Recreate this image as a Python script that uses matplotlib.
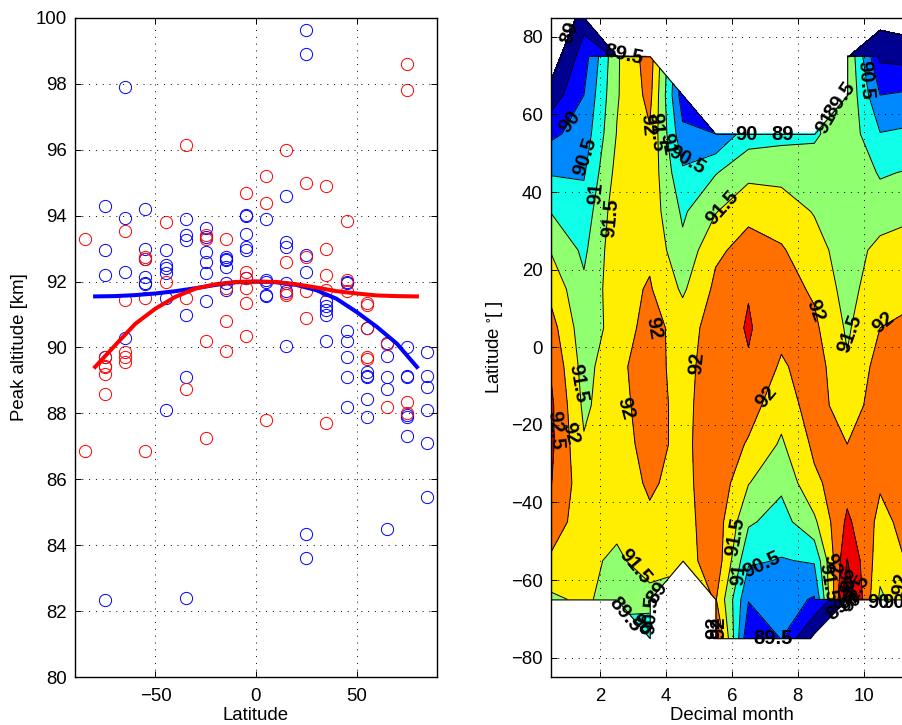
import numpy as np
import matplotlib
matplotlib.use('Agg')
from matplotlib import pyplot as plt

plt.rcParams['font.family'] = ['Liberation Sans', 'DejaVu Sans']
plt.rcParams['font.size'] = 13.4
plt.rcParams['mathtext.default'] = 'regular'

n = np.nan

# left panel: peak altitude per latitude bin
blue_lat = [-75]*5 + [-65]*4 + [-55]*6 + [-45]*6 + [-35]*6 + [-25]*6 + [-15]*6 + [-5]*6 + [5]*5 + [15]*6 + [25]*6 + [35]*5 + [45]*7 + [55]*6 + [65]*5 + [75]*6 + [85]*6
blue_alt = [94.3, 92.95, 92.2, 89.7, 82.35,
            97.9, 93.92, 92.3, 90.3,
            94.2, 93.0, 92.7, 92.15, 91.95, 91.93,
            92.95, 92.5, 92.4, 92.25, 91.5, 88.1,
            93.9, 93.4, 93.25, 91.0, 89.1, 82.4,
            93.62, 93.35, 92.9, 92.6, 92.25, 91.4,
            92.75, 92.7, 92.65, 92.45, 91.95, 91.75,
            94.02, 94.0, 93.45, 93.05, 92.95, 92.1,
            93.9, 92.05, 92.0, 91.6, 91.55,
            94.6, 93.2, 93.05, 91.95, 91.7, 90.05,
            99.65, 98.9, 92.8, 92.3, 84.35, 83.6,
            91.4, 91.25, 91.15, 91.0, 90.2,
            92.0, 91.95, 90.5, 90.2, 89.7, 89.1, 88.2,
            90.6, 89.25, 89.15, 89.1, 88.45, 87.9,
            90.15, 89.75, 89.1, 88.75, 84.5,
            90.0, 89.15, 89.1, 87.95, 87.9, 87.3,
            89.85, 89.15, 88.8, 88.1, 87.1, 85.45]

red_lat = [-85]*2 + [-75]*5 + [-65]*5 + [-55]*4 + [-45]*2 + [-35]*3 + [-25]*4 + [-15]*4 + [-5]*6 + [5]*3 + [15]*4 + [25]*4 + [35]*5 + [45]*3 + [55]*5 + [65]*2 + [75]*4
red_alt = [93.3, 86.85,
           89.7, 89.45, 89.4, 89.2, 88.6,
           93.55, 91.45, 89.85, 89.7, 89.55,
           92.75, 92.7, 91.5, 86.85,
           93.8, 92.0,
           96.15, 91.5, 88.75,
           93.4, 93.3, 90.2, 87.25,
           93.3, 91.8, 90.8, 89.9,
           94.7, 92.3, 92.1, 91.8, 91.35, 90.35,
           95.2, 94.4, 87.8,
           96.0, 92.6, 91.65, 91.6,
           95.0, 92.75, 91.7, 90.9,
           94.9, 93.0, 92.2, 91.75, 87.7,
           93.85, 92.05, 91.7,
           91.35, 91.3, 90.6, 89.7, 89.65,
           90.1, 88.2,
           98.6, 97.8, 88.35, 88.0]

fit_lat = [-80, -70, -60, -50, -40, -30, -20, -10, 0, 10, 20, 30, 40, 50, 60, 70, 80]
blue_fit_alt = [91.55, 91.56, 91.59, 91.64, 91.71, 91.8, 91.9, 91.98, 92.0, 91.98, 91.9, 91.74, 91.48, 91.08, 90.63, 90.12, 89.41]
red_fit_alt = [89.41, 90.07, 90.72, 91.18, 91.54, 91.79, 91.92, 91.99, 92.0, 91.99, 91.92, 91.82, 91.71, 91.64, 91.58, 91.56, 91.55]

# right panel: gridded peak altitude, month against latitude
# rows 75.02 and -65.02 are there to keep the colours off the corners next to the gaps
months = [0.5, 1.5, 2.5, 3.5, 4.5, 5.5, 6.5, 7.5, 8.5, 9.5, 10.5, 11.5]
lats = [85, 75.02, 75, 65, 55, 45, 35, 25, 15, 5, -5, -15, -25, -35, -45, -55, -65, -65.02, -75]
alt_85 = [88.1, 89.3, n, n, n, n, n, n, n, n, 88.81, 88.7]
alt_75b = [88.7, 89.75, 89.45, n, n, n, n, n, n, 88.98, 89.4, 89.3]
alt_75 = [88.7, 89.75, 91.43, 92.26, n, n, n, n, n, 91.49, 89.4, 89.3]
alt_65 = [89.2, 90.0, 91.45, 92.15, 89.72, n, n, n, n, 91.43, 90.0, 90.1]
alt_55 = [89.9, 90.2, 91.52, 91.95, 90.13, 90.0, 90.77, 90.85, 90.92, 91.32, 90.52, 90.6]
alt_45 = [90.46, 90.45, 91.66, 91.85, 90.58, 90.97, 91.35, 91.35, 91.25, 91.4, 90.95, 91.05]
alt_35 = [90.98, 90.7, 91.8, 91.8, 90.92, 91.47, 91.9, 91.75, 91.47, 91.2, 91.25, 91.4]
alt_25 = [91.47, 90.9, 91.85, 91.9, 91.12, 91.92, 92.15, 92.05, 91.7, 91.25, 91.65, 91.75]
alt_15 = [91.85, 91.1, 91.8, 92.05, 91.42, 92.1, 92.47, 92.2, 91.93, 91.3, 91.85, 91.9]
alt_5 = [92.2, 91.2, 91.7, 92.2, 91.78, 92.2, 92.55, 92.15, 92.1, 91.43, 92.0, 92.1]
alt_m5 = [92.45, 91.3, 91.9, 92.2, 91.8, 92.3, 92.45, 91.93, 92.25, 91.55, 92.2, 92.3]
alt_m15 = [92.6, 91.4, 91.85, 92.2, 91.85, 92.3, 92.2, 91.7, 92.25, 91.7, 92.3, 92.3]
alt_m25 = [92.6, 91.55, 91.75, 92.2, 91.85, 92.35, 91.95, 91.43, 92.1, 92.0, 92.3, 92.3]
alt_m35 = [92.52, 91.7, 91.7, 92.08, 91.8, 92.4, 91.52, 91.1, 91.9, 92.3, 92.05, 92.3]
alt_m45 = [92.25, 91.75, 91.7, 91.9, 91.8, 92.3, 91.07, 90.8, 91.4, 92.6, 91.87, 92.2]
alt_m55 = [91.93, 91.7, 91.35, 91.88, 91.7, 92.35, 90.58, 90.47, 90.55, 93.02, 91.7, 92.1]
alt_m65 = [91.4, 91.6, 91.25, 91.22, n, 92.05, 90.03, 90.2, 89.95, 93.45, 91.4, 92.0]
alt_m65b = [n, n, 91.25, 91.22, n, 92.05, 90.03, 90.2, 89.95, 88.98, n, n]
alt_m75 = [n, n, n, 90.6, n, 92.75, 89.55, 90.02, 88.85, n, n, n]

levels = [89, 89.5, 90, 90.5, 91, 91.5, 92, 92.5, 93, 93.5]
band_colors = ['#000090', '#0000ff', '#0088ff', '#10ffe8', '#90ff70', '#ffee00', '#ff7000', '#ee0000', '#800000']

# text, month, latitude, rotation
contour_labels = [('89', 1.08, 81, 72), ('89.5', 2.7, 75.4, -12), ('90', 1.06, 58, 52),
                  ('90.5', 1.53, 49.2, 72), ('91', 1.87, 39.7, 85), ('91.5', 2.31, 33.3, 85),
                  ('92', 3.43, 57.3, -85), ('91.5', 3.71, 55.4, -85), ('91', 4.04, 52.4, -80),
                  ('90.5', 4.62, 48.3, -30), ('90', 6.43, 54.8, 0), ('89', 7.54, 54.8, 0),
                  ('91.5', 5.72, 35.9, 48), ('91', 8.86, 57.8, 60), ('89.5', 9.28, 63.8, 55),
                  ('90.5', 10.04, 68.9, -85), ('92', 8.52, 9.5, -70), ('92', 3.61, 4.9, -80),
                  ('91.5', 9.57, 3.6, 70), ('92', 10.6, 6.4, 40), ('91.5', 1.33, -9.2, -80),
                  ('92', 2.75, -15.9, -75), ('92', 4.93, -4.1, 85), ('92', 7.03, -12.9, 50),
                  ('92.5', 0.62, -21.3, -85), ('92', 1.08, -22.1, -75), ('91.5', 3.05, -56.5, -50),
                  ('91.5', 6.09, -48.8, 80), ('91', 6.22, -58.6, 85), ('90.5', 6.9, -56, 25),
                  ('89.5', 7.24, -75, 0), ('89', 3.72, -63.3, 55), ('90.5', 3.52, -69, 85),
                  ('89.5', 2.76, -69, -50), ('90', 3.22, -71.5, -50), ('92', 5.45, -72.4, 90),
                  ('92', 5.6, -72.4, 90), ('91.5', 8.93, -60.7, -80), ('92', 9.05, -56, -70),
                  ('93', 9.39, -59.9, -85), ('92.5', 9.75, -63.3, 60), ('93', 9.45, -63, -60),
                  ('89', 9.2, -67.5, 40), ('90', 9.6, -65.9, 30), ('90', 10.45, -65.7, 0),
                  ('90', 10.9, -65.7, 0), ('92', 11.12, -61, 80)]

fig = plt.figure(figsize=(9.03, 7.25), dpi=100)
W, H = 903.0, 725.0

# panel 1
ax1 = fig.add_axes([75/W, 1-677/H, 362/W, 659/H])
ax1.plot(blue_lat, blue_alt, 'o', mfc='none', mec='b', ms=8.8, mew=0.7)
ax1.plot(red_lat, red_alt, 'o', mfc='none', mec='r', ms=8.8, mew=0.7)
ax1.plot(fit_lat, blue_fit_alt, 'b', lw=2.9)
ax1.plot(fit_lat, red_fit_alt, 'r', lw=2.9)
ax1.set_xlim(-90, 90)
ax1.set_ylim(80, 100)
ax1.set_xticks([-50, 0, 50])
ax1.set_yticks(np.arange(80, 101, 2))
ax1.set_xlabel('Latitude')
ax1.set_ylabel('Peak altitude [km]')
ax1.yaxis.set_label_coords(-47/362, 0.5)
ax1.xaxis.set_label_coords(0.5, -30/659)

# panel 2
alt = np.array([alt_85, alt_75b, alt_75, alt_65, alt_55, alt_45, alt_35, alt_25, alt_15, alt_5,
                alt_m5, alt_m15, alt_m25, alt_m35, alt_m45, alt_m55, alt_m65, alt_m65b, alt_m75])
alt = np.ma.masked_invalid(alt)

ax2 = fig.add_axes([551/W, 1-677/H, 362/W, 659.5/H])
ax2.contourf(months, lats, alt, levels=levels, colors=band_colors, zorder=1)
ax2.contour(months, lats, alt, levels=levels[1:-1], colors='k', linewidths=0.7, zorder=2)
outline = ax2.contourf(months, lats, alt, levels=[89, 200], colors='none', zorder=2)
outline.set_edgecolor('k')
outline.set_linewidth(0.8)
for txt, m, la, rot in contour_labels:
    ax2.text(m, la, txt, rotation=rot, rotation_mode='anchor', ha='center', va='center',
             fontsize=14.5, fontweight='bold', zorder=5, clip_on=False)
ax2.set_xlim(0.5, 11.5)
ax2.set_ylim(-85, 85)
ax2.set_xticks(np.arange(2, 11, 2))
ax2.set_yticks(np.arange(-80, 81, 20))
ax2.set_xlabel('Decimal month')
ax2.set_ylabel('Latitude $^{\\circ}$[ ]')
ax2.yaxis.set_label_coords(-46/362, 0.5)
ax2.xaxis.set_label_coords(0.5, -30/659)

for ax in (ax1, ax2):
    ax.tick_params(direction='in', top=True, right=True, length=4.5, width=0.7, pad=6)
    ax.tick_params(axis='x', pad=8)
    ax.grid(True, color='k', linestyle=(0, (1, 6)), linewidth=0.7)
    ax.set_axisbelow(False)
    for s in ax.spines.values():
        s.set_linewidth(1.0)

fig.savefig('out.png', dpi=100)
